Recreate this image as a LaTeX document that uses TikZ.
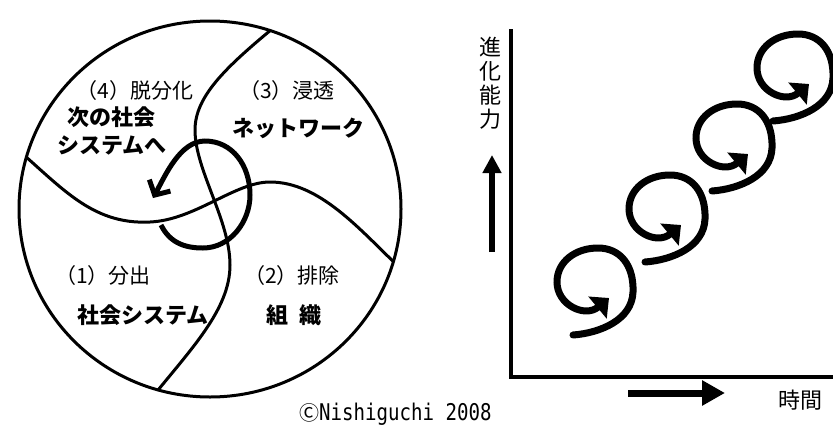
\documentclass[tikz,border=0pt]{standalone}
\usepackage{fontspec}
\setmainfont{Noto Sans CJK JP}
\newfontfamily\cpfont[FakeStretch=0.83]{DejaVu Sans Mono}
\usetikzlibrary{arrows.meta}
\tikzset{
  divline/.style={line width=3pt},
  lbl/.style={inner sep=0pt, font=\fontsize{21}{25}\selectfont},
  blbl/.style={inner sep=0pt, font=\fontsize{22}{26}\selectfont\bfseries},
  loopline/.style={line width=5pt, -{Straight Barb[length=11pt,width=24pt]}},
  spiralline/.style={line width=7pt, line cap=round, -{Triangle[length=15pt,width=28pt]}},
  axisline/.style={line width=4pt},
}
\begin{document}
\begin{tikzpicture}[x=1pt,y=-1pt]
\useasboundingbox (0,0) rectangle (833,429);
% ---------- left circle ----------
\coordinate (cc) at (210,209);
\begin{scope}
  \clip (cc) ellipse [x radius=191pt, y radius=188pt];
  \draw[divline] (283,20) .. controls (228,65) and (195,95) .. (195,130)
     .. controls (195,170) and (230,220) .. (230,265)
     .. controls (230,310) and (190,350) .. (150,400);
  \draw[divline] (10,143) .. controls (60,185) and (90,225) .. (150,222)
     .. controls (195,220) and (235,182) .. (270,182)
     .. controls (320,182) and (360,230) .. (400,268);
\end{scope}
\draw[divline] (cc) ellipse [x radius=191pt, y radius=188pt];
\draw[loopline] (161,225) .. controls (170,243) and (185,248) .. (203,248)
   .. controls (230,248) and (250,222) .. (250,195)
   .. controls (250,165) and (232,141) .. (205,141)
   .. controls (180,141) and (165,176) .. (153,198);
% labels
\node[lbl]  (l4)  at (135,91)  {（4）脱分化};
\node[blbl] (l4a) at (111,117) {次の社会};
\node[blbl] (l4b) at (112,145) {システムへ};
\node[lbl]  (l3)  at (287,91)  {（3）浸透};
\node[blbl] (l3a) at (298,128) {ネットワーク};
\node[lbl]  (l1)  at (103,276) {（1）分出};
\node[blbl] (l1a) at (143,315) {社会システム};
\node[lbl]  (l2)  at (292,276) {（2）排除};
\node[blbl] (l2a) at (294,315) {組\hspace{0.5em}織};
\node[anchor=west, inner sep=0pt] (copy) at (299,414)
  {{\fontsize{20}{24}\selectfont Ⓒ}{\cpfont\fontsize{23}{26}\selectfont Nishiguchi 2008}};
% ---------- right graph ----------
\coordinate (ytop) at (511,29);
\coordinate (orig) at (511,377);
\coordinate (xend) at (833,377);
\draw[axisline] (ytop) -- (orig) -- (xend);
\node[inner sep=0pt, align=center, font=\fontsize{22}{24}\selectfont] (ylab) at (490,83) {進\\化\\能\\力};
\node[inner sep=0pt, font=\fontsize{22}{26}\selectfont] (xlab) at (800,400) {時間};
\coordinate (ua0) at (492,252);
\coordinate (ua1) at (492,155);
\draw[line width=6pt, -{Triangle[length=18pt,width=18pt]}] (ua0) -- (ua1);
\coordinate (ra0) at (628,393);
\coordinate (ra1) at (725,393);
\draw[line width=7pt, -{Triangle[length=23pt,width=24pt]}] (ra0) -- (ra1);
\foreach \dx/\dy in {0/0,72/-73,139/-144,200/-214}{
  \begin{scope}[shift={(\dx,\dy)}]
    \draw[spiralline] (573,335) .. controls (600,333) and (632,320) .. (633,292)
      .. controls (634,265) and (620,248) .. (598,248)
      .. controls (575,248) and (557,262) .. (557,282)
      .. controls (557,305) and (585,318) .. (609,298);
  \end{scope}
}
\end{tikzpicture}
\end{document}
